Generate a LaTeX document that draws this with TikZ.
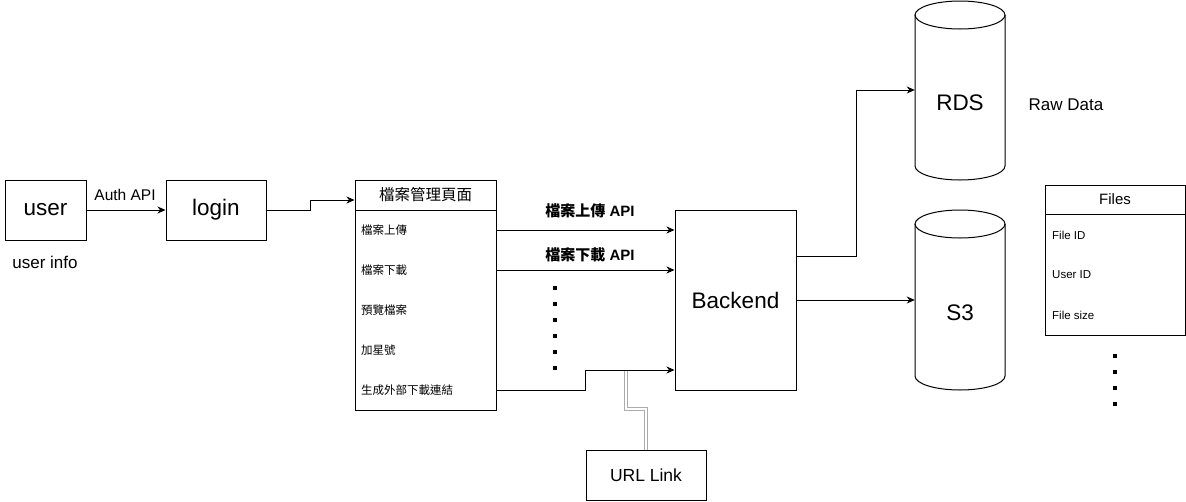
\documentclass[tikz,border=0pt]{standalone}
\usepackage{fontspec}
\setmainfont{Liberation Sans}
\newfontfamily\cjk{Noto Sans CJK TC}
\usetikzlibrary{arrows.meta}
\newcommand{\myfs}[1]{\fontsize{#1}{#1}\selectfont}
\begin{document}
\begin{tikzpicture}[x=1pt,y=-1pt,
  box/.style={draw, line width=1pt, inner sep=0pt},
  big/.style={font=\myfs{22.5}},
  lbl/.style={inner sep=0pt},
  item/.style={inner sep=0pt, anchor=west, font=\myfs{11.5}},
  apilbl/.style={inner sep=0pt, font=\myfs{15}\bfseries},
  arr/.style={line width=1pt, -{Stealth[length=8pt,width=7pt,inset=2.5pt]}},
  dbl/.style={draw=gray!65, line width=0.9pt, double=white, double distance=2.6pt},
  cylarea/.style={inner sep=0pt, draw=none},
  cyl/.style={line width=1pt},
  dotsq/.style={fill=black, inner sep=0pt, minimum size=3.5pt}
]
\useasboundingbox (0,0) rectangle (1186,501);

% user / login
\node[box, big, minimum width=81pt, minimum height=60pt] (user) at (45.5,210) {user};
\node[box, big, minimum width=100pt, minimum height=60pt] (login) at (216,210) {login};
\draw[arr] (user) -- (login);
\node[lbl, font=\myfs{15.5}] (auth) at (125,195) {Auth API};
\node[lbl, font=\myfs{17}] (uinfo) at (45,262) {user info};

% page list
\node[box, minimum width=141pt, minimum height=30pt, font=\myfs{15.5}\cjk] (pagehd) at (425.5,195) {檔案管理頁面};
\node[box, minimum width=141pt, minimum height=200pt] (pagebody) at (425.5,310) {};
\node[item] (it1) at (361,230) {\cjk 檔案上傳};
\node[item] (it2) at (361,270) {\cjk 檔案下載};
\node[item] (it3) at (361,310) {\cjk 預覽檔案};
\node[item] (it4) at (361,350) {\cjk 加星號};
\node[item] (it5) at (361,390) {\cjk 生成外部下載連結};

\coordinate (l1) at (310,210);
\coordinate (l2) at (310,200);
\draw[arr] (login.east) -- (l1) -- (l2) -- (pagehd.west |- l2);

% backend
\node[box, big, minimum width=121pt, minimum height=180pt] (backend) at (735.5,300) {Backend};

\draw[arr] (pagebody.east |- it1) -- (backend.west |- it1);
\node[apilbl] (upl) at (590,211) {{\cjk 檔案上傳} API};
\draw[arr] (pagebody.east |- it2) -- (backend.west |- it2);
\node[apilbl] (dnl) at (590,255) {{\cjk 檔案下載} API};

\foreach \i/\yy in {1/288,2/304,3/320,4/336,5/352,6/368}
  \node[dotsq] (pd\i) at (555,\yy) {};

\coordinate (g1) at (585,390);
\coordinate (g2) at (585,370);
\draw[arr] (pagebody.east |- it5) -- (g1) -- (g2) -- (backend.west |- g2);

% URL link
\node[box, minimum width=120pt, minimum height=50pt, font=\myfs{17.5}] (url) at (646,475) {URL Link};
\coordinate (u1) at (646,409);
\coordinate (u2) at (626,409);
\coordinate (u3) at (626,371);
\draw[dbl] (url.north) -- (u1) -- (u2) -- (u3);

% cylinders
\node[cylarea, minimum width=90pt, minimum height=179pt] (rds) at (960,90.5) {};
\draw[cyl] (915,15) -- (915,166) arc[start angle=180, end angle=360, x radius=45pt, y radius=14pt] -- (1005,15);
\draw[cyl] (960,15) ellipse[x radius=45pt, y radius=14pt];
\node[lbl, big] (rdstxt) at (960,103) {RDS};

\node[cylarea, minimum width=90pt, minimum height=180pt] (s3) at (960,300) {};
\draw[cyl] (915,224) -- (915,376) arc[start angle=180, end angle=360, x radius=45pt, y radius=14pt] -- (1005,224);
\draw[cyl] (960,224) ellipse[x radius=45pt, y radius=14pt];
\node[lbl, big] (s3txt) at (960,313) {S3};

\coordinate (r1) at (856,256);
\coordinate (r2) at (856,90);
\draw[arr] (backend.east |- r1) -- (r1) -- (r2) -- (rds.west |- r2);
\coordinate (s1) at (800,300);
\draw[arr] (backend.east |- s1) -- (s3.west |- s1);

\node[lbl, font=\myfs{17}] (raw) at (1066,105) {Raw Data};

% Files table
\node[box, minimum width=140pt, minimum height=29pt, font=\myfs{15}] (fileshd) at (1115,199.5) {Files};
\node[box, minimum width=140pt, minimum height=121pt] (filesbody) at (1115,274.5) {};
\node[item] (f1) at (1052,235) {File ID};
\node[item] (f2) at (1052,275) {User ID};
\node[item] (f3) at (1052,315) {File size};
\foreach \i/\yy in {1/356,2/372,3/388,4/404}
  \node[dotsq] (fd\i) at (1115,\yy) {};
\end{tikzpicture}
\end{document}
